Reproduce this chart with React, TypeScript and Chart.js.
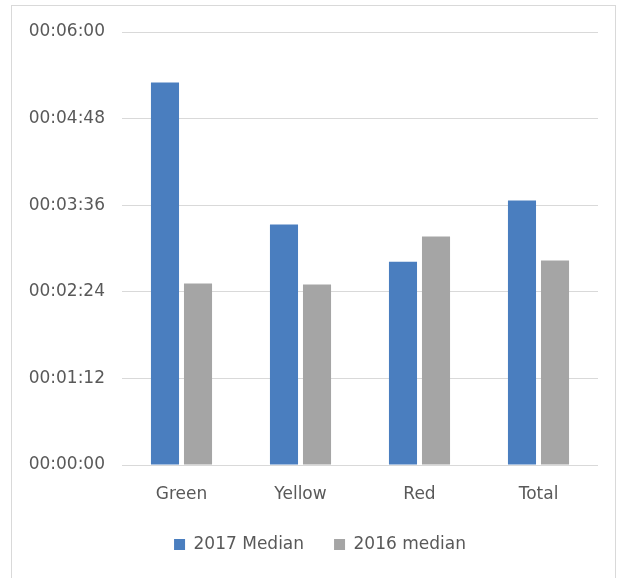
import React, { useEffect, useRef } from "react";
import { Chart, registerables } from "chart.js";

Chart.register(...registerables);

const categories = ["Green", "Yellow", "Red", "Total"];
// median durations in seconds
const median2017 = [318, 200, 169, 220];
const median2016 = [151, 150, 190, 170];
const yTickValues = [0, 72, 144, 216, 288, 360];
const seriesLabels = ["2017 Median", "2016 median"];

function fmt(s: number): string {
  const h = Math.floor(s / 3600);
  const m = Math.floor((s % 3600) / 60);
  const sec = Math.round(s % 60);
  return [h, m, sec].map((v) => String(v).padStart(2, "0")).join(":");
}

const FONT = "'DejaVu Sans', sans-serif";
const TEXT = "#595959";

const legendShift = {
  id: "legendShift",
  afterLayout(chart: any) {
    const lg = chart.legend;
    if (lg) {
      lg.left += 15.5;
      lg.right += 15.5;
    }
  },
};

export default function App() {
  const ref = useRef<HTMLCanvasElement | null>(null);

  useEffect(() => {
    if (!ref.current) return;
    const chart = new Chart(ref.current, {
      type: "bar",
      data: {
        labels: categories,
        datasets: [
          {
            label: seriesLabels[0],
            data: median2017,
            backgroundColor: "#4a7ebf",
            categoryPercentage: 0.555,
            barPercentage: 0.85,
          },
          {
            label: seriesLabels[1],
            data: median2016,
            backgroundColor: "#a5a5a5",
            categoryPercentage: 0.555,
            barPercentage: 0.85,
          },
        ],
      },
      plugins: [legendShift],
      options: {
        responsive: false,
        animation: false,
        layout: { padding: { left: 11, right: 25, top: 32, bottom: 15 } },
        plugins: {
          tooltip: { enabled: false },
          legend: {
            position: "bottom",
            labels: {
              boxWidth: 11,
              boxHeight: 11,
              padding: 30,
              color: TEXT,
              font: { family: FONT, size: 17 },
            },
          },
        },
        scales: {
          x: {
            grid: { display: false, drawTicks: false },
            border: { display: false },
            ticks: {
              color: TEXT,
              font: { family: FONT, size: 17 },
              padding: 19,
              maxRotation: 0,
            },
            afterFit: (scale: any) => {
              scale.height = 41;
            },
          },
          y: {
            min: 0,
            max: 360,
            border: { display: false },
            grid: { color: "#d9d9d9", drawTicks: false, lineWidth: 1 },
            afterBuildTicks: (scale: any) => {
              scale.ticks = yTickValues.map((v) => ({ value: v }));
            },
            ticks: {
              color: TEXT,
              font: { family: FONT, size: 17 },
              padding: 17,
              callback: (v: any) => fmt(Number(v)),
            },
            afterFit: (scale: any) => {
              scale.width = 111;
            },
          },
        },
      },
    });
    return () => chart.destroy();
  }, []);

  return (
    <div
      style={{
        position: "fixed",
        left: 0,
        top: 0,
        width: 623,
        height: 578,
        background: "#ffffff",
      }}
    >
      <div
        style={{
          position: "absolute",
          left: 11,
          top: 5,
          width: 605,
          height: 580,
          border: "1px solid #d9d9d9",
          boxSizing: "border-box",
        }}
      />
      <canvas
        ref={ref}
        width={623}
        height={578}
        style={{ position: "absolute", left: 0, top: 0 }}
      />
    </div>
  );
}
